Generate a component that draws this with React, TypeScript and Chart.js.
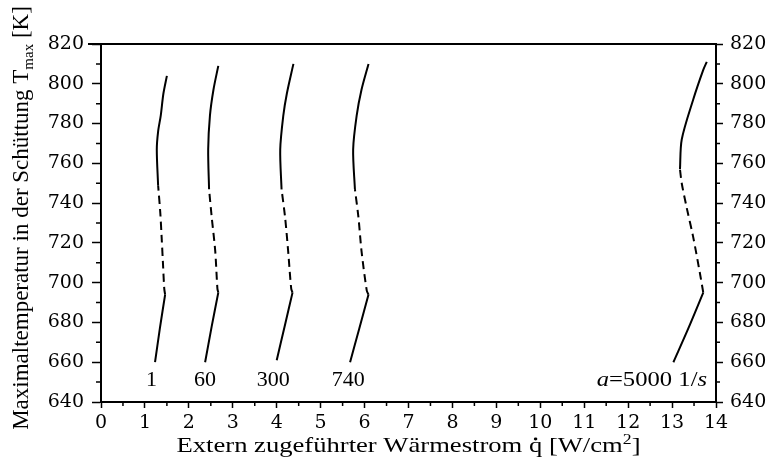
import React, { useEffect, useRef } from "react";
import { Chart, registerables } from "chart.js";

Chart.register(...registerables);

// ---- axis ranges / ticks ----
const X_MIN = 0;
const X_MAX = 14;
const X_STEP = 1;
const Y_MIN = 640;
const Y_MAX = 820;
const Y_STEP = 20;

// ---- curves: heat flux q [W/cm2] vs. max temperature T [K] ----
// breaks = [index where the dashed (unstable) branch starts, index where the upper solid branch starts]
const Q_A1 = [1.23, 1.34, 1.46, 1.44, 1.41, 1.38, 1.35, 1.30, 1.27, 1.30, 1.36, 1.42, 1.50];
const T_A1 = [660, 677, 694, 697, 710, 723, 735, 749, 767, 776, 784, 795, 804];
const BREAKS_A1 = [2, 7];

const Q_A60 = [2.37, 2.52, 2.67, 2.65, 2.60, 2.52, 2.46, 2.44, 2.48, 2.56, 2.67];
const T_A60 = [660, 678, 695, 697, 716, 733, 747, 767, 784, 797, 809];
const BREAKS_A60 = [2, 6];

const Q_A300 = [4.00, 4.18, 4.36, 4.33, 4.26, 4.19, 4.11, 4.08, 4.15, 4.23, 4.38];
const T_A300 = [661, 678, 695, 697, 716, 733, 747, 767, 784, 795, 810];
const BREAKS_A300 = [2, 6];

const Q_A740 = [5.67, 5.88, 6.09, 6.05, 5.93, 5.86, 5.78, 5.74, 5.82, 5.93, 6.09];
const T_A740 = [660, 677, 694, 696, 716, 733, 747, 767, 784, 797, 810];
const BREAKS_A740 = [2, 6];

const Q_A5000 = [13.03, 13.37, 13.71, 13.64, 13.48, 13.33, 13.22, 13.18, 13.22, 13.48, 13.71, 13.79];
const T_A5000 = [660, 677, 695, 704, 723, 738, 750, 757, 772, 792, 807, 811];
const BREAKS_A5000 = [2, 7];

// ---- curve labels ----
const CURVE_LABELS = ["1", "60", "300", "740", "a=5000 1/s"];
const LABEL_Q = [1.15, 2.37, 3.92, 5.63, 12.54];
const LABEL_T = 651;

// ---- axis titles ----
const X_TITLE_A = "Extern zugeführter Wärmestrom ";
const X_TITLE_Q = "q";
const X_TITLE_B = " [W/cm";
const X_TITLE_SUP = "2";
const X_TITLE_C = "]";
const Y_TITLE_MAIN = "Maximaltemperatur in der Schüttung T";
const Y_TITLE_SUB = "max";
const Y_TITLE_END = " [K]";

const CURVES = [
  { q: Q_A1, t: T_A1, breaks: BREAKS_A1 },
  { q: Q_A60, t: T_A60, breaks: BREAKS_A60 },
  { q: Q_A300, t: T_A300, breaks: BREAKS_A300 },
  { q: Q_A740, t: T_A740, breaks: BREAKS_A740 },
  { q: Q_A5000, t: T_A5000, breaks: BREAKS_A5000 },
];

const SERIF = "'Liberation Serif', 'Times New Roman', serif";
const TICK_SERIF = "'DejaVu Serif', serif";

function slice(q: number[], t: number[], from: number, to: number) {
  const out: { x: number; y: number }[] = [];
  for (let i = from; i <= to; i++) out.push({ x: q[i], y: t[i] });
  return out;
}

function buildDatasets() {
  const ds: any[] = [];
  CURVES.forEach((c) => {
    const [b0, b1] = c.breaks;
    const last = c.q.length - 1;
    const base = {
      borderColor: "#000",
      borderWidth: 2,
      pointRadius: 0,
      tension: 0.3,
      fill: false,
      yAxisID: "y",
    };
    ds.push({ ...base, data: slice(c.q, c.t, 0, b0) });
    ds.push({ ...base, data: slice(c.q, c.t, b0, b1), borderDash: [8, 5] });
    ds.push({ ...base, data: slice(c.q, c.t, b1, last) });
  });
  return ds;
}

const decorPlugin = {
  id: "decor",
  afterDraw(chart: any) {
    const { ctx, chartArea: a, scales } = chart;
    const xs = scales.x;
    const ys = scales.y;
    ctx.save();
    ctx.strokeStyle = "#000";
    ctx.fillStyle = "#000";

    // top frame line
    ctx.lineWidth = 2;
    ctx.beginPath();
    ctx.moveTo(a.left - 13, a.top);
    ctx.lineTo(a.right + 1, a.top);
    ctx.stroke();

    // minor ticks
    ctx.lineWidth = 1.5;
    ctx.beginPath();
    for (let v = X_MIN + X_STEP / 2; v < X_MAX; v += X_STEP) {
      const px = xs.getPixelForValue(v);
      ctx.moveTo(px, a.bottom);
      ctx.lineTo(px, a.bottom + 4);
    }
    for (let v = Y_MIN + Y_STEP / 2; v < Y_MAX; v += Y_STEP) {
      const py = ys.getPixelForValue(v);
      ctx.moveTo(a.left - 5, py);
      ctx.lineTo(a.left, py);
      ctx.moveTo(a.right, py);
      ctx.lineTo(a.right + 4, py);
    }
    ctx.stroke();

    // curve labels
    ctx.textBaseline = "middle";
    ctx.textAlign = "left";
    CURVE_LABELS.forEach((lab, i) => {
      const cx = xs.getPixelForValue(LABEL_Q[i]);
      const cy = ys.getPixelForValue(LABEL_T);
      const parts = lab.split("").map((ch) => ({ ch, it: /[a-z]/i.test(ch) }));
      let total = 0;
      parts.forEach((p) => {
        ctx.font = `${p.it ? "italic " : ""}22px ${SERIF}`;
        total += ctx.measureText(p.ch).width;
      });
      const stretch = lab.length > 4 ? 1.12 : 1;
      ctx.save();
      ctx.translate(cx - (total * stretch) / 2, cy);
      ctx.scale(stretch, 1);
      let px = 0;
      parts.forEach((p) => {
        ctx.font = `${p.it ? "italic " : ""}22px ${SERIF}`;
        ctx.fillText(p.ch, px, 0);
        px += ctx.measureText(p.ch).width;
      });
      ctx.restore();
    });

    // x title (stretched horizontally to the width of the original)
    ctx.textBaseline = "alphabetic";
    const mainX = `21px ${SERIF}`;
    const supX = `14px ${SERIF}`;
    ctx.font = mainX;
    const wA = ctx.measureText(X_TITLE_A).width;
    const wQ = ctx.measureText(X_TITLE_Q).width;
    const wB = ctx.measureText(X_TITLE_B).width;
    const wC = ctx.measureText(X_TITLE_C).width;
    ctx.font = supX;
    const wS = ctx.measureText(X_TITLE_SUP).width;
    const totalX = wA + wQ + wB + wS + wC;
    const targetW = 464;
    const sx = targetW / totalX;
    const baseY = 452;
    ctx.save();
    ctx.translate((a.left + a.right) / 2 - targetW / 2, baseY);
    ctx.scale(sx, 1);
    let tx = 0;
    ctx.font = mainX;
    ctx.fillText(X_TITLE_A, tx, 0);
    tx += wA;
    ctx.fillText(X_TITLE_Q, tx, 0);
    ctx.beginPath();
    ctx.arc(tx + wQ / 2, -13, 1.4, 0, Math.PI * 2);
    ctx.fill();
    tx += wQ;
    ctx.fillText(X_TITLE_B, tx, 0);
    tx += wB;
    ctx.font = supX;
    ctx.fillText(X_TITLE_SUP, tx, -8);
    tx += wS;
    ctx.font = mainX;
    ctx.fillText(X_TITLE_C, tx, 0);
    ctx.restore();

    // y title (rotated)
    const mainY = `23px ${SERIF}`;
    const subY = `15px ${SERIF}`;
    ctx.font = mainY;
    const w1 = ctx.measureText(Y_TITLE_MAIN).width;
    const w3 = ctx.measureText(Y_TITLE_END).width;
    ctx.font = subY;
    const w2 = ctx.measureText(Y_TITLE_SUB).width;
    const totalY = w1 + w2 + w3;
    ctx.translate(28, 218);
    ctx.rotate(-Math.PI / 2);
    let ty = -totalY / 2;
    ctx.font = mainY;
    ctx.fillText(Y_TITLE_MAIN, ty, 0);
    ty += w1;
    ctx.font = subY;
    ctx.fillText(Y_TITLE_SUB, ty, 5);
    ty += w2;
    ctx.font = mainY;
    ctx.fillText(Y_TITLE_END, ty, 0);

    ctx.restore();
  },
};

export default function App() {
  const ref = useRef<HTMLCanvasElement | null>(null);

  useEffect(() => {
    document.body.style.margin = "0";
    if (!ref.current) return;
    const tickFont = { family: TICK_SERIF, size: 19 };
    const chart = new Chart(ref.current, {
      type: "line",
      data: { datasets: buildDatasets() },
      options: {
        animation: false,
        responsive: false,
        events: [],
        layout: { padding: { top: 44, left: 0, right: 0, bottom: 0 } },
        plugins: { legend: { display: false }, tooltip: { enabled: false } },
        scales: {
          x: {
            type: "linear",
            min: X_MIN,
            max: X_MAX,
            afterFit: (s: any) => {
              s.height = 58;
            },
            ticks: { stepSize: X_STEP, color: "#000", font: tickFont, padding: 4, maxRotation: 0, autoSkip: false },
            grid: { drawOnChartArea: false, drawTicks: true, tickLength: 6, tickColor: "#000", tickWidth: 1.5 },
            border: { display: true, color: "#000", width: 2 },
          },
          y: {
            type: "linear",
            position: "left",
            min: Y_MIN,
            max: Y_MAX,
            afterFit: (s: any) => {
              s.width = 101;
            },
            ticks: { stepSize: Y_STEP, color: "#000", font: tickFont, padding: 8 },
            grid: { drawOnChartArea: false, drawTicks: true, tickLength: 9, tickColor: "#000", tickWidth: 1.5 },
            border: { display: true, color: "#000", width: 2 },
          },
          y2: {
            type: "linear",
            position: "right",
            min: Y_MIN,
            max: Y_MAX,
            afterFit: (s: any) => {
              s.width = 59;
            },
            ticks: { stepSize: Y_STEP, color: "#000", font: tickFont, padding: 7 },
            grid: { drawOnChartArea: false, drawTicks: true, tickLength: 7, tickColor: "#000", tickWidth: 1.5 },
            border: { display: true, color: "#000", width: 2 },
          },
        },
      },
      plugins: [decorPlugin],
    } as any);
    return () => chart.destroy();
  }, []);

  return (
    <div style={{ position: "relative", width: 775, height: 460, background: "#fff" }}>
      <canvas ref={ref} width={775} height={460} style={{ display: "block" }} />
    </div>
  );
}
